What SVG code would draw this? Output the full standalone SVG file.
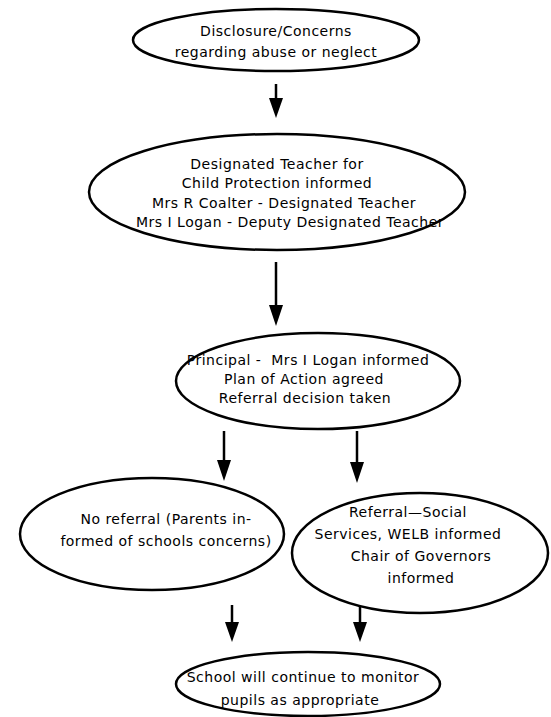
<svg xmlns="http://www.w3.org/2000/svg" width="551" height="717" viewBox="0 0 551 717">
<defs>
<style>
.n{fill:#fff;stroke:#000;stroke-width:2.5}
.t{font-family:"DejaVu Sans",sans-serif;font-size:14px;letter-spacing:0.5px;fill:#000;text-anchor:middle}
.c{stroke:#000;stroke-width:2.5;fill:none}
</style>
</defs>
<rect width="551" height="717" fill="#fff"/>
<g id="connectors">
<line class="c" x1="276" y1="84" x2="276" y2="98"/><path d="M269,98 L283,98 L276,118 Z"/>
<line class="c" x1="276" y1="262" x2="276" y2="306"/><path d="M269,305 L283,305 L276,326 Z"/>
<line class="c" x1="224" y1="431" x2="224" y2="461"/><path d="M217,460 L231,460 L224,481 Z"/>
<line class="c" x1="357" y1="431" x2="357" y2="463"/><path d="M350,462 L364,462 L357,483 Z"/>
<line class="c" x1="232" y1="605" x2="232" y2="623"/><path d="M225,622 L239,622 L232,642 Z"/>
<line class="c" x1="360" y1="605" x2="360" y2="623"/><path d="M353,622 L367,622 L360,642 Z"/>
</g>
<g id="n1">
<ellipse class="n" cx="276" cy="40" rx="143" ry="31"/>
<text class="t" x="276" y="36">Disclosure/Concerns</text>
<text class="t" x="276" y="57">regarding abuse or neglect</text>
</g>
<g id="n2">
<ellipse class="n" cx="277" cy="192" rx="188" ry="58"/>
<text class="t" x="277" y="169">Designated Teacher for</text>
<text class="t" x="277" y="188">Child Protection informed</text>
<text class="t" x="284" y="208">Mrs R Coalter - Designated Teacher</text>
<text class="t" x="290" y="227">Mrs I Logan - Deputy Designated Teacher</text>
</g>
<g id="n3">
<ellipse class="n" cx="318" cy="381" rx="142" ry="48"/>
<text class="t" x="308" y="365" xml:space="preserve">Principal -  Mrs I Logan informed</text>
<text class="t" x="304" y="384">Plan of Action agreed</text>
<text class="t" x="305" y="403">Referral decision taken</text>
</g>
<g id="n4">
<ellipse class="n" cx="152" cy="534" rx="132" ry="56"/>
<text class="t" x="166" y="524">No referral (Parents in-</text>
<text class="t" x="166" y="546">formed of schools concerns)</text>
</g>
<g id="n5">
<ellipse class="n" cx="420" cy="553" rx="128" ry="60"/>
<text class="t" x="408" y="517">Referral—Social</text>
<text class="t" x="408" y="539">Services, WELB informed</text>
<text class="t" x="421" y="561">Chair of Governors</text>
<text class="t" x="421" y="583">informed</text>
</g>
<g id="n6">
<ellipse class="n" cx="308" cy="684" rx="132" ry="32"/>
<text class="t" x="303" y="682">School will continue to monitor</text>
<text class="t" x="300" y="705">pupils as appropriate</text>
</g>
</svg>
